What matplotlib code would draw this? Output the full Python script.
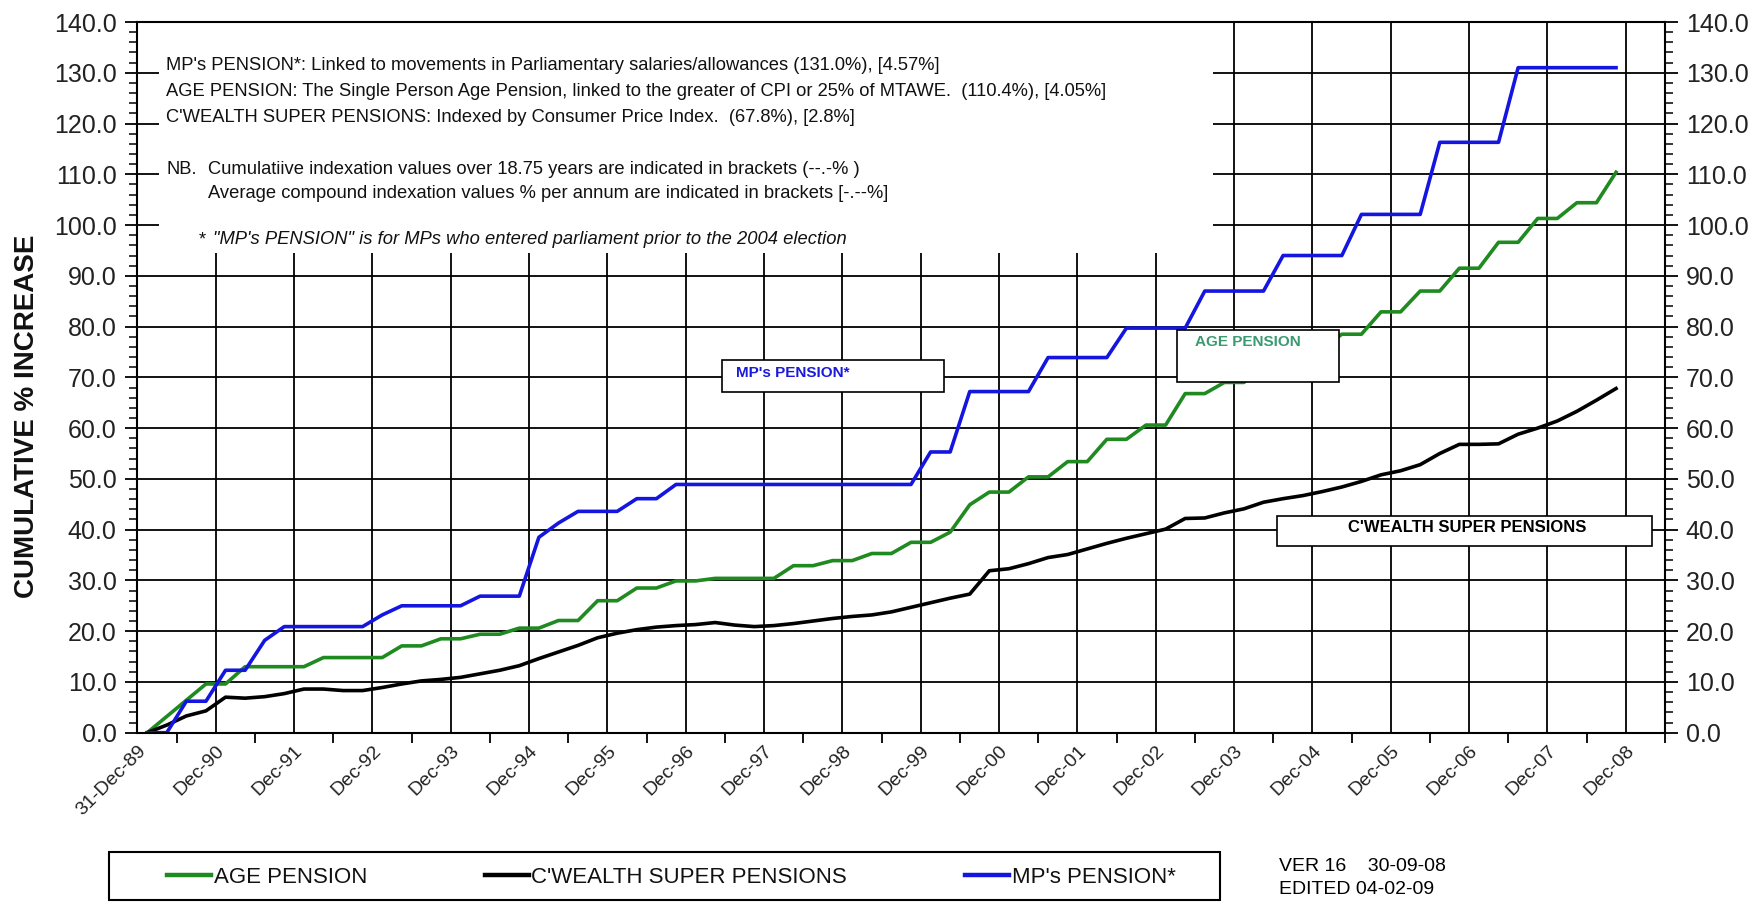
import matplotlib
matplotlib.use("Agg")
import matplotlib.pyplot as plt
from matplotlib.patches import Rectangle
from matplotlib.ticker import MultipleLocator, FixedLocator, FuncFormatter
import pandas as pd

plt.rcParams['font.family'] = ['Liberation Sans', 'DejaVu Sans']

# ---------------- data (quarterly, Dec-89 .. Sep-08) ----------------
quarters = pd.period_range('1989Q4', '2008Q3', freq='Q')

age_pension = [
    0, 3.2, 6.4, 9.6, 9.6, 13.0, 13.0, 13.0, 13.0, 14.8,
    14.8, 14.8, 14.8, 17.1, 17.1, 18.5, 18.5, 19.4, 19.4, 20.6,
    20.6, 22.1, 22.1, 26.0, 26.0, 28.5, 28.5, 29.9, 29.9, 30.4,
    30.4, 30.4, 30.4, 32.9, 32.9, 33.9, 33.9, 35.3, 35.3, 37.5,
    37.5, 39.5, 44.9, 47.4, 47.4, 50.4, 50.4, 53.4, 53.4, 57.8,
    57.8, 60.6, 60.6, 66.8, 66.8, 69.0, 69.0, 72.3, 72.3, 75.6,
    75.6, 78.5, 78.5, 82.9, 82.9, 87.0, 87.0, 91.5, 91.5, 96.6,
    96.6, 101.3, 101.3, 104.4, 104.4, 110.4]

cwealth_super = [
    0, 1.5, 3.3, 4.3, 7.0, 6.8, 7.1, 7.7, 8.6, 8.6,
    8.3, 8.3, 8.9, 9.6, 10.2, 10.5, 10.9, 11.6, 12.3, 13.2,
    14.6, 15.9, 17.2, 18.7, 19.6, 20.3, 20.8, 21.1, 21.3, 21.7,
    21.2, 20.9, 21.1, 21.5, 22.0, 22.5, 22.9, 23.2, 23.8, 24.7,
    25.6, 26.5, 27.3, 31.9, 32.3, 33.3, 34.5, 35.1, 36.2, 37.3,
    38.3, 39.2, 40.1, 42.2, 42.3, 43.3, 44.1, 45.4, 46.1, 46.7,
    47.5, 48.4, 49.5, 50.8, 51.6, 52.8, 55.0, 56.8, 56.8, 56.9,
    58.8, 60.0, 61.4, 63.3, 65.5, 67.8]

mps_pension = [
    0, 0, 6.2, 6.2, 12.3, 12.3, 18.2, 20.9, 20.9, 20.9,
    20.9, 20.9, 23.2, 25.0, 25.0, 25.0, 25.0, 26.9, 26.9, 26.9,
    38.5, 41.3, 43.6, 43.6, 43.6, 46.1, 46.1, 48.9, 48.9, 48.9,
    48.9, 48.9, 48.9, 48.9, 48.9, 48.9, 48.9, 48.9, 48.9, 48.9,
    55.3, 55.3, 67.2, 67.2, 67.2, 67.2, 73.9, 73.9, 73.9, 73.9,
    79.7, 79.7, 79.7, 79.7, 87.0, 87.0, 87.0, 87.0, 94.0, 94.0,
    94.0, 94.0, 102.1, 102.1, 102.1, 102.1, 116.3, 116.3, 116.3, 116.3,
    131.0, 131.0, 131.0, 131.0, 131.0, 131.0]

year_labels = ['31-Dec-89', 'Dec-90', 'Dec-91', 'Dec-92', 'Dec-93', 'Dec-94',
               'Dec-95', 'Dec-96', 'Dec-97', 'Dec-98', 'Dec-99', 'Dec-00',
               'Dec-01', 'Dec-02', 'Dec-03', 'Dec-04', 'Dec-05', 'Dec-06',
               'Dec-07', 'Dec-08']

series_names = ['AGE PENSION', "C'WEALTH SUPER PENSIONS", "MP's PENSION*"]

# ---------------- figure ----------------
W, H = 1762, 905
fig = plt.figure(figsize=(W / 100, H / 100), dpi=100)
fig.patch.set_facecolor('white')


def fx(px):
    return px / W


def fy(py):
    return 1 - py / H


L, R, T, B = 137.4, 1665, 22, 732.7
ax = fig.add_axes([fx(L), fy(B), fx(R - L), (B - T) / H])

n_cat = 78  # 19.5 years of quarterly categories
xpos = [i + 0.5 for i in range(len(quarters))]

GREEN = '#1f8a1f'
BLUE = '#1515e0'
l_age, = ax.plot(xpos, age_pension, color=GREEN, lw=2.6, zorder=4)
l_cw, = ax.plot(xpos, cwealth_super, color='black', lw=2.6, zorder=4)
l_mp, = ax.plot(xpos, mps_pension, color=BLUE, lw=2.6, zorder=4)

ax.set_xlim(0, n_cat)
ax.set_ylim(0, 140)

# x axis: gridlines/labels each December, minor ticks at mid-year
ax.xaxis.set_major_locator(FixedLocator(list(range(0, 4 * len(year_labels), 4))))
ax.set_xticklabels(year_labels, rotation=45, ha='right', va='top',
                   rotation_mode='anchor', fontsize=14, color='#222222')
ax.xaxis.set_minor_locator(FixedLocator(list(range(2, n_cat + 1, 4))))
ax.tick_params(axis='x', which='major', length=0, pad=7)
ax.tick_params(axis='x', which='minor', length=7, width=1.3, direction='out')

# y axis both sides
ax.yaxis.set_major_locator(MultipleLocator(10))
ax.yaxis.set_minor_locator(MultipleLocator(2))
ax.yaxis.set_major_formatter(FuncFormatter(lambda v, p: f'{v:.1f}'))
ax.tick_params(axis='y', which='both', left=True, right=True,
               labelleft=True, labelright=True, direction='out')
ax.tick_params(axis='y', which='major', length=9, width=1.3, labelsize=18, pad=6,
               labelcolor='#222222')
ax.tick_params(axis='y', which='minor', length=6, width=1.1)

ax.grid(True, which='major', color='black', lw=1.3)
ax.set_axisbelow(True)
for s in ax.spines.values():
    s.set_linewidth(1.5)
    s.set_zorder(7)

fig.text(fx(27), fy(416), 'CUMULATIVE % INCREASE', rotation=90, fontsize=20,
         fontweight='bold', ha='center', va='center', color='#111111')

# white notes box (covers gridlines) in upper-left of the plot area
ax.add_patch(Rectangle((fx(159), fy(253)), fx(1213 - 159), (253 - 23) / H,
                       transform=fig.transFigure, facecolor='white',
                       edgecolor='none', zorder=2, clip_on=False))

note_kw = dict(fontsize=13.2, va='center', ha='left', color='#111111', zorder=8)
fig.text(fx(166), fy(66), "MP's PENSION*: Linked to movements in Parliamentary salaries/allowances (131.0%), [4.57%]", **note_kw)
fig.text(fx(166), fy(91), "AGE PENSION: The Single Person Age Pension, linked to the greater of CPI or 25% of MTAWE.  (110.4%), [4.05%]", **note_kw)
fig.text(fx(166), fy(117), "C'WEALTH SUPER PENSIONS: Indexed by Consumer Price Index.  (67.8%), [2.8%]", **note_kw)
fig.text(fx(166), fy(170), "NB.", **note_kw)
fig.text(fx(208), fy(170), "Cumulatiive indexation values over 18.75 years are indicated in brackets (--.-% )", **note_kw)
fig.text(fx(208), fy(194), "Average compound indexation values % per annum are indicated in brackets [-.--%]", **note_kw)
fig.text(fx(199), fy(240), "*", **note_kw)
fig.text(fx(213), fy(240), "\"MP's PENSION\" is for MPs who entered parliament prior to the 2004 election",
         style='italic', **note_kw)


# series label boxes inside the plot
def label_box(x0, y0, x1, y1, text, tx, ty, color, size):
    ax.add_patch(Rectangle((fx(x0), fy(y1)), fx(x1 - x0), (y1 - y0) / H,
                           transform=fig.transFigure, facecolor='white',
                           edgecolor='black', lw=1.2, zorder=6, clip_on=False))
    fig.text(fx(tx), fy(ty), text, fontsize=size, fontweight='bold', color=color,
             ha='left', va='center', zorder=9)


label_box(722, 360, 944, 392, series_names[2], 736, 373, '#1a1ad8', 11)
label_box(1177, 330, 1339, 382, series_names[0], 1195, 342, '#3a9a70', 11)
label_box(1277, 516, 1652, 546, series_names[1], 1348, 528, 'black', 12)

# legend below the chart
fig.add_artist(Rectangle((fx(109), fy(900)), fx(1220 - 109), (900 - 852) / H,
                         transform=fig.transFigure, facecolor='white',
                         edgecolor='black', lw=1.5))
leg = fig.legend([l_age, l_cw, l_mp], series_names, loc='center left',
                 bbox_to_anchor=(fx(167), fy(877)), ncol=3, frameon=False,
                 fontsize=16, handlelength=2.0, handletextpad=0.1,
                 columnspacing=5.3, borderaxespad=0, borderpad=0)
for h in leg.legend_handles:
    h.set_linewidth(3.2)
for t in leg.get_texts():
    t.set_color('#111111')

fig.text(fx(1279), fy(866), "VER 16    30-09-08", fontsize=14, va='center', ha='left')
fig.text(fx(1279), fy(889), "EDITED 04-02-09", fontsize=14, va='center', ha='left')

fig.savefig('out.png', dpi=100)
